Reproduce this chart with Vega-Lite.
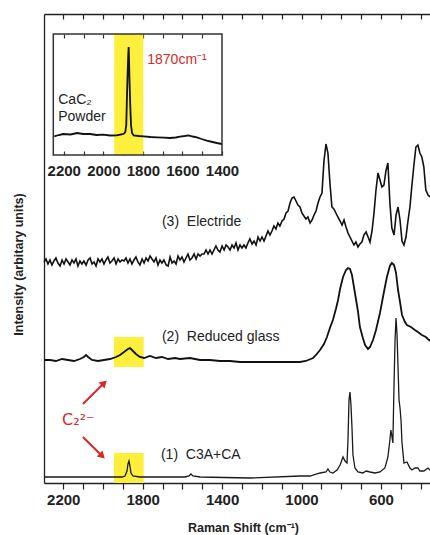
{
  "$schema": "https://vega.github.io/schema/vega-lite/v6.json",
  "width": 386,
  "height": 469,
  "autosize": {"type": "none"},
  "padding": {"left": 44, "top": 14, "right": 0, "bottom": 52},
  "config": {"view": {"stroke": null}, "font": "Liberation Sans", "axis": {"grid": false}},
  "datasets": {
    "electride": [
      {"w":2297,"I":221},{"w":2287,"I":224},{"w":2277,"I":219},{"w":2267,"I":223},{"w":2257,"I":218},{"w":2247,"I":222},{"w":2237,"I":225},{"w":2227,"I":220},{"w":2216,"I":217},{"w":2206,"I":223},
      {"w":2196,"I":219},{"w":2186,"I":224},{"w":2176,"I":221},{"w":2166,"I":218},{"w":2156,"I":223},{"w":2146,"I":220},{"w":2136,"I":224},{"w":2126,"I":217},{"w":2116,"I":222},{"w":2106,"I":219},
      {"w":2096,"I":222},{"w":2085,"I":218},{"w":2075,"I":223},{"w":2065,"I":225},{"w":2055,"I":219},{"w":2045,"I":221},{"w":2035,"I":217},{"w":2025,"I":224},{"w":2015,"I":221},{"w":2005,"I":224},
      {"w":1995,"I":219},{"w":1985,"I":223},{"w":1975,"I":226},{"w":1965,"I":220},{"w":1955,"I":222},{"w":1944,"I":225},{"w":1934,"I":219},{"w":1924,"I":224},{"w":1914,"I":221},{"w":1904,"I":223},
      {"w":1894,"I":222},{"w":1884,"I":225},{"w":1874,"I":220},{"w":1864,"I":224},{"w":1854,"I":219},{"w":1844,"I":223},{"w":1834,"I":226},{"w":1824,"I":221},{"w":1814,"I":218},{"w":1803,"I":224},
      {"w":1793,"I":220},{"w":1783,"I":225},{"w":1773,"I":222},{"w":1763,"I":227},{"w":1753,"I":224},{"w":1743,"I":221},{"w":1733,"I":225},{"w":1723,"I":218},{"w":1713,"I":223},{"w":1703,"I":220},
      {"w":1693,"I":223},{"w":1682,"I":218},{"w":1672,"I":217},{"w":1662,"I":226},{"w":1652,"I":220},{"w":1642,"I":222},{"w":1632,"I":219},{"w":1622,"I":227},{"w":1612,"I":223},{"w":1602,"I":226},
      {"w":1592,"I":221},{"w":1582,"I":225},{"w":1572,"I":229},{"w":1562,"I":223},{"w":1552,"I":225},{"w":1541,"I":229},{"w":1531,"I":224},{"w":1521,"I":229},{"w":1511,"I":227},{"w":1501,"I":229},
      {"w":1491,"I":229},{"w":1481,"I":233},{"w":1471,"I":229},{"w":1461,"I":233},{"w":1451,"I":229},{"w":1441,"I":233},{"w":1431,"I":237},{"w":1421,"I":233},{"w":1411,"I":231},{"w":1400,"I":237},
      {"w":1390,"I":233},{"w":1380,"I":238},{"w":1370,"I":236},{"w":1360,"I":233},{"w":1350,"I":238},{"w":1340,"I":235},{"w":1330,"I":240},{"w":1320,"I":233},{"w":1310,"I":238},{"w":1300,"I":235},
      {"w":1290,"I":238},{"w":1280,"I":235},{"w":1270,"I":240},{"w":1260,"I":244},{"w":1249,"I":239},{"w":1239,"I":242},{"w":1229,"I":238},{"w":1219,"I":246},{"w":1209,"I":242},{"w":1199,"I":246},
      {"w":1189,"I":242},{"w":1179,"I":247},{"w":1169,"I":252},{"w":1159,"I":248},{"w":1149,"I":252},{"w":1139,"I":257},{"w":1129,"I":254},{"w":1119,"I":260},{"w":1109,"I":257},{"w":1098,"I":262},
      {"w":1088,"I":264},{"w":1078,"I":270},{"w":1068,"I":272},{"w":1058,"I":280},{"w":1048,"I":285},{"w":1038,"I":286},{"w":1028,"I":282},{"w":1018,"I":278},{"w":1008,"I":276},{"w":998,"I":270},
      {"w":988,"I":267},{"w":978,"I":264},{"w":968,"I":266},{"w":957,"I":260},{"w":947,"I":263},{"w":937,"I":268},{"w":927,"I":272},{"w":917,"I":280},{"w":907,"I":286},{"w":897,"I":290},
      {"w":887,"I":322},{"w":877,"I":339},{"w":867,"I":330},{"w":857,"I":300},{"w":847,"I":276},{"w":837,"I":274},{"w":827,"I":270},{"w":817,"I":266},{"w":806,"I":262},{"w":796,"I":258},
      {"w":786,"I":263},{"w":776,"I":256},{"w":766,"I":250},{"w":756,"I":246},{"w":746,"I":242},{"w":736,"I":238},{"w":726,"I":241},{"w":716,"I":236},{"w":706,"I":239},{"w":696,"I":241},
      {"w":686,"I":248},{"w":675,"I":251},{"w":665,"I":246},{"w":655,"I":241},{"w":645,"I":252},{"w":635,"I":270},{"w":625,"I":293},{"w":615,"I":310},{"w":605,"I":303},{"w":595,"I":296},
      {"w":585,"I":298},{"w":575,"I":312},{"w":565,"I":320},{"w":555,"I":280},{"w":545,"I":255},{"w":534,"I":248},{"w":524,"I":268},{"w":514,"I":276},{"w":504,"I":263},{"w":494,"I":242},
      {"w":484,"I":238},{"w":474,"I":246},{"w":464,"I":262},{"w":454,"I":276},{"w":444,"I":298},{"w":434,"I":318},{"w":424,"I":336},{"w":414,"I":338},{"w":404,"I":330},{"w":394,"I":326},
      {"w":384,"I":316},{"w":374,"I":293},{"w":363,"I":288},{"w":353,"I":286}
    ],
    "glass": [
      {"w":2297,"I":123},{"w":2267,"I":123},{"w":2237,"I":122},{"w":2206,"I":124},{"w":2176,"I":123},{"w":2146,"I":122},{"w":2116,"I":124},{"w":2096,"I":126},{"w":2085,"I":128},{"w":2075,"I":126},
      {"w":2055,"I":123},{"w":2025,"I":122},{"w":1995,"I":123},{"w":1965,"I":124},{"w":1934,"I":126},{"w":1914,"I":128},{"w":1894,"I":131},{"w":1874,"I":134},{"w":1864,"I":135},{"w":1854,"I":133},
      {"w":1834,"I":129},{"w":1814,"I":126},{"w":1793,"I":125},{"w":1763,"I":127},{"w":1733,"I":125},{"w":1703,"I":126},{"w":1672,"I":124},{"w":1637,"I":125},{"w":1612,"I":124},{"w":1562,"I":125},
      {"w":1511,"I":123},{"w":1461,"I":123},{"w":1411,"I":122},{"w":1360,"I":122},{"w":1310,"I":121},{"w":1260,"I":121},{"w":1209,"I":121},{"w":1159,"I":121},{"w":1109,"I":121},{"w":1058,"I":121},
      {"w":1008,"I":121},{"w":978,"I":122},{"w":942,"I":125},{"w":927,"I":128},{"w":907,"I":133},{"w":887,"I":139},{"w":872,"I":146},{"w":857,"I":155},{"w":842,"I":163},{"w":827,"I":174},
      {"w":816,"I":183},{"w":806,"I":194},{"w":791,"I":206},{"w":776,"I":213},{"w":766,"I":215},{"w":756,"I":214},{"w":746,"I":208},{"w":731,"I":190},{"w":716,"I":172},{"w":706,"I":156},
      {"w":691,"I":145},{"w":680,"I":138},{"w":665,"I":134},{"w":655,"I":136},{"w":640,"I":143},{"w":625,"I":153},{"w":605,"I":170},{"w":585,"I":191},{"w":570,"I":206},{"w":555,"I":217},
      {"w":545,"I":220},{"w":534,"I":218},{"w":524,"I":210},{"w":514,"I":193},{"w":504,"I":181},{"w":494,"I":168},{"w":479,"I":161},{"w":469,"I":158},{"w":449,"I":156},{"w":429,"I":153},
      {"w":414,"I":151},{"w":394,"I":148},{"w":374,"I":146},{"w":353,"I":142}
    ],
    "c3a": [
      {"w":2297,"I":6},{"w":2116,"I":6},{"w":1965,"I":6},{"w":1904,"I":6},{"w":1889,"I":7},{"w":1879,"I":12},{"w":1874,"I":19},{"w":1869,"I":22},{"w":1864,"I":17},{"w":1859,"I":10},
      {"w":1849,"I":7},{"w":1814,"I":6},{"w":1713,"I":6},{"w":1587,"I":6},{"w":1567,"I":7},{"w":1557,"I":9},{"w":1547,"I":7},{"w":1511,"I":6},{"w":1260,"I":5},{"w":1008,"I":7},
      {"w":957,"I":7},{"w":907,"I":10},{"w":877,"I":11},{"w":867,"I":14},{"w":857,"I":11},{"w":842,"I":10},{"w":821,"I":13},{"w":806,"I":18},{"w":791,"I":26},{"w":781,"I":22},
      {"w":771,"I":20},{"w":766,"I":43},{"w":761,"I":83},{"w":756,"I":91},{"w":751,"I":78},{"w":746,"I":56},{"w":741,"I":28},{"w":731,"I":15},{"w":716,"I":11},{"w":691,"I":10},
      {"w":675,"I":12},{"w":655,"I":11},{"w":630,"I":10},{"w":605,"I":11},{"w":580,"I":15},{"w":565,"I":26},{"w":555,"I":43},{"w":550,"I":53},{"w":545,"I":47},{"w":540,"I":40},
      {"w":534,"I":100},{"w":529,"I":143},{"w":524,"I":165},{"w":519,"I":148},{"w":514,"I":116},{"w":509,"I":83},{"w":504,"I":75},{"w":499,"I":63},{"w":494,"I":40},{"w":484,"I":20},
      {"w":469,"I":21},{"w":454,"I":15},{"w":444,"I":13},{"w":429,"I":15},{"w":414,"I":15},{"w":404,"I":12},{"w":384,"I":12},{"w":363,"I":15},{"w":353,"I":13}
    ],
    "cac2": [
      {"w":2248,"I":18.7},{"w":2225,"I":20},{"w":2204,"I":21},{"w":2166,"I":20.5},{"w":2133,"I":22},{"w":2102,"I":21},{"w":2066,"I":21},{"w":2034,"I":20},{"w":2001,"I":20.3},{"w":1966,"I":19.5},
      {"w":1932,"I":19.7},{"w":1898,"I":21},{"w":1889,"I":23},{"w":1884,"I":30},{"w":1881,"I":55},{"w":1878,"I":77},{"w":1874,"I":100},{"w":1872,"I":108},{"w":1870,"I":95},{"w":1868,"I":77},
      {"w":1864,"I":50},{"w":1860,"I":30},{"w":1855,"I":22},{"w":1847,"I":19.7},{"w":1821,"I":19},{"w":1797,"I":18.7},{"w":1762,"I":18},{"w":1729,"I":17.7},{"w":1693,"I":17.3},{"w":1663,"I":17},
      {"w":1634,"I":17.5},{"w":1612,"I":18.3},{"w":1589,"I":19},{"w":1570,"I":19.7},{"w":1548,"I":18.5},{"w":1527,"I":17.7},{"w":1503,"I":16},{"w":1477,"I":14.3},{"w":1448,"I":13},{"w":1426,"I":12},
      {"w":1401,"I":11}
    ],
    "bands": [
      {"x1":1945,"x2":1795,"y1":116,"y2":146},
      {"x1":1945,"x2":1795,"y1":0,"y2":30}
    ],
    "labels": [
      {"w":1703,"I":261,"text":"(3)\u00a0\u00a0Electride"},
      {"w":1703,"I":146,"text":"(2)\u00a0\u00a0Reduced glass"},
      {"w":1708,"I":28,"text":"(1)\u00a0\u00a0C3A+CA"}
    ],
    "arrows": [
      {"w1":2101,"I1":79,"w2":1994,"I2":100,"dir":"up"},
      {"w1":2101,"I1":46,"w2":2004,"I2":27,"dir":"down"}
    ],
    "c2": [{"w":2206,"I":63,"text":"C\u2082\u00b2\u207b"}],
    "insetband": [{"x1":1945,"x2":1798,"y1":0,"y2":121}],
    "insetframe": [{"x1":2253,"x2":1400,"y1":0,"y2":121}],
    "insettext": [
      {"w":2228,"I":55,"text":"CaC\u2082"},
      {"w":2228,"I":38,"text":"Powder"}
    ],
    "insetred": [{"w":1778,"I":95,"text":"1870cm\u207b\u00b9"}]
  },
  "layer": [
    {
      "layer": [
        {
          "data": {"name": "bands"},
          "mark": {"type": "rect", "color": "#fcf03c"},
          "encoding": {
            "x": {"field": "x1", "type": "quantitative", "scale": {"domain": [353, 2297], "reverse": true, "nice": false, "zero": false}, "axis": null},
            "x2": {"field": "x2"},
            "y": {"field": "y1", "type": "quantitative", "scale": {"domain": [0, 469], "nice": false, "zero": false}, "axis": null},
            "y2": {"field": "y2"}
          }
        },
        {
          "data": {"name": "electride"},
          "mark": {"type": "line", "color": "#111111", "strokeWidth": 1.6},
          "encoding": {
            "x": {"field": "w", "type": "quantitative", "scale": {"domain": [353, 2297], "reverse": true, "nice": false, "zero": false},
              "axis": {"orient": "bottom", "values": [2200,2100,2000,1900,1800,1700,1600,1500,1400,1300,1200,1100,1000,900,800,700,600,500,400],
                "format": "d", "labelExpr": "(2200 - datum.value) % 400 === 0 ? datum.label : ''",
                "title": "Raman Shift (cm\u207b\u00b9)", "tickSize": 6, "tickColor": "#222", "tickWidth": 1.2, "domainColor": "#222", "domainWidth": 1.3,
                "labelFont": "Liberation Sans", "labelFontWeight": "bold", "labelFontSize": 15, "labelColor": "#222", "labelPadding": 3,
                "labelFlush": false, "labelOverlap": false,
                "titleFont": "Liberation Sans", "titleFontWeight": "bold", "titleFontSize": 12.5, "titleColor": "#222",
                "titleX": 199, "titleY": 44, "titleBaseline": "middle", "titleAlign": "center"}},
            "y": {"field": "I", "type": "quantitative", "scale": {"domain": [0, 469], "nice": false, "zero": false},
              "axis": {"orient": "left", "ticks": false, "labels": false, "title": "Intensity (arbitary units)", "domainColor": "#222", "domainWidth": 1.3,
                "titleFont": "Liberation Sans", "titleFontWeight": "bold", "titleFontSize": 12.5, "titleColor": "#222",
                "titleX": -26, "titleY": 250, "titleAngle": 270, "titleAlign": "center", "titleBaseline": "middle"}}
          }
        },
        {
          "data": {"name": "glass"},
          "mark": {"type": "line", "color": "#111111", "strokeWidth": 1.8},
          "encoding": {
            "x": {"field": "w", "type": "quantitative", "scale": {"domain": [353, 2297], "reverse": true, "nice": false, "zero": false},
              "axis": {"orient": "top", "values": [2200,2100,2000,1900,1800,1700,1600,1500,1400,1300,1200,1100,1000,900,800,700,600,500,400],
                "labels": false, "title": null, "tickSize": -5, "tickColor": "#222", "tickWidth": 1.2, "domainColor": "#222", "domainWidth": 1.3}},
            "y": {"field": "I", "type": "quantitative", "scale": {"domain": [0, 469], "nice": false, "zero": false}, "axis": null}
          }
        },
        {
          "data": {"name": "c3a"},
          "mark": {"type": "line", "color": "#1a1a1a", "strokeWidth": 1.3},
          "encoding": {
            "x": {"field": "w", "type": "quantitative", "scale": {"domain": [353, 2297], "reverse": true, "nice": false, "zero": false}, "axis": null},
            "y": {"field": "I", "type": "quantitative", "scale": {"domain": [0, 469], "nice": false, "zero": false}, "axis": null}
          }
        },
        {
          "data": {"name": "labels"},
          "mark": {"type": "text", "align": "left", "baseline": "middle", "fontSize": 14, "font": "Liberation Sans", "color": "#222"},
          "encoding": {
            "x": {"field": "w", "type": "quantitative", "scale": {"domain": [353, 2297], "reverse": true, "nice": false, "zero": false}, "axis": null},
            "y": {"field": "I", "type": "quantitative", "scale": {"domain": [0, 469], "nice": false, "zero": false}, "axis": null},
            "text": {"field": "text"}
          }
        },
        {
          "data": {"name": "c2"},
          "mark": {"type": "text", "align": "left", "baseline": "middle", "fontSize": 16, "font": "DejaVu Sans", "color": "#d42a2a"},
          "encoding": {
            "x": {"field": "w", "type": "quantitative", "scale": {"domain": [353, 2297], "reverse": true, "nice": false, "zero": false}, "axis": null},
            "y": {"field": "I", "type": "quantitative", "scale": {"domain": [0, 469], "nice": false, "zero": false}, "axis": null},
            "text": {"field": "text"}
          }
        },
        {
          "data": {"name": "arrows"},
          "mark": {"type": "rule", "color": "#d42a2a", "strokeWidth": 2},
          "encoding": {
            "x": {"field": "w1", "type": "quantitative", "scale": {"domain": [353, 2297], "reverse": true, "nice": false, "zero": false}, "axis": null},
            "x2": {"field": "w2"},
            "y": {"field": "I1", "type": "quantitative", "scale": {"domain": [0, 469], "nice": false, "zero": false}, "axis": null},
            "y2": {"field": "I2"}
          }
        },
        {
          "data": {"name": "arrows"},
          "mark": {"type": "point", "shape": "triangle-up", "filled": true, "size": 70, "color": "#d42a2a", "opacity": 1},
          "encoding": {
            "x": {"field": "w2", "type": "quantitative", "scale": {"domain": [353, 2297], "reverse": true, "nice": false, "zero": false}, "axis": null},
            "y": {"field": "I2", "type": "quantitative", "scale": {"domain": [0, 469], "nice": false, "zero": false}, "axis": null},
            "angle": {"field": "dir", "type": "nominal", "scale": {"domain": ["up", "down"], "range": [45, 135]}, "legend": null}
          }
        }
      ],
      "resolve": {"axis": {"x": "independent", "y": "independent"}}
    },
    {
      "layer": [
        {
          "data": {"name": "insetband"},
          "mark": {"type": "rect", "color": "#fcf03c"},
          "encoding": {
            "x": {"field": "x1", "type": "quantitative", "scale": {"domain": [1400, 2253], "range": [178, 9.3], "nice": false, "zero": false}, "axis": null},
            "x2": {"field": "x2"},
            "y": {"field": "y1", "type": "quantitative", "scale": {"domain": [0, 121], "range": [141, 20], "nice": false, "zero": false}, "axis": null},
            "y2": {"field": "y2"}
          }
        },
        {
          "data": {"name": "insetframe"},
          "mark": {"type": "rect", "fill": null, "fillOpacity": 0, "stroke": "#333", "strokeWidth": 1.5},
          "encoding": {
            "x": {"field": "x1", "type": "quantitative", "scale": {"domain": [1400, 2253], "range": [178, 9.3], "nice": false, "zero": false},
              "axis": {"orient": "top", "offset": -20, "values": [2200,2100,2000,1900,1800,1700,1600,1500], "labels": false, "title": null, "domain": false,
                "tickSize": -4, "tickColor": "#333", "tickWidth": 1.2}},
            "x2": {"field": "x2"},
            "y": {"field": "y1", "type": "quantitative", "scale": {"domain": [0, 121], "range": [141, 20], "nice": false, "zero": false}, "axis": null},
            "y2": {"field": "y2"}
          }
        },
        {
          "data": {"name": "cac2"},
          "mark": {"type": "line", "color": "#111111", "strokeWidth": 1.8},
          "encoding": {
            "x": {"field": "w", "type": "quantitative", "scale": {"domain": [1400, 2253], "range": [178, 9.3], "nice": false, "zero": false},
              "axis": {"orient": "bottom", "offset": -328, "values": [2200,2100,2000,1900,1800,1700,1600,1500,1400], "format": "d",
                "labelExpr": "datum.value % 200 === 0 ? datum.label : ''", "title": null, "domain": false,
                "tickSize": -4, "tickColor": "#333", "tickWidth": 1.2,
                "labelFont": "Liberation Sans", "labelFontWeight": "bold", "labelFontSize": 15, "labelColor": "#222", "labelPadding": 12,
                "labelFlush": false, "labelOverlap": false}},
            "y": {"field": "I", "type": "quantitative", "scale": {"domain": [0, 121], "range": [141, 20], "nice": false, "zero": false}, "axis": null}
          }
        },
        {
          "data": {"name": "insettext"},
          "mark": {"type": "text", "align": "left", "baseline": "middle", "fontSize": 14, "font": "Liberation Sans", "color": "#222"},
          "encoding": {
            "x": {"field": "w", "type": "quantitative", "scale": {"domain": [1400, 2253], "range": [178, 9.3], "nice": false, "zero": false}, "axis": null},
            "y": {"field": "I", "type": "quantitative", "scale": {"domain": [0, 121], "range": [141, 20], "nice": false, "zero": false}, "axis": null},
            "text": {"field": "text"}
          }
        },
        {
          "data": {"name": "insetred"},
          "mark": {"type": "text", "align": "left", "baseline": "middle", "fontSize": 14, "font": "Liberation Sans", "color": "#d42a2a"},
          "encoding": {
            "x": {"field": "w", "type": "quantitative", "scale": {"domain": [1400, 2253], "range": [178, 9.3], "nice": false, "zero": false}, "axis": null},
            "y": {"field": "I", "type": "quantitative", "scale": {"domain": [0, 121], "range": [141, 20], "nice": false, "zero": false}, "axis": null},
            "text": {"field": "text"}
          }
        }
      ],
      "resolve": {"axis": {"x": "independent", "y": "independent"}}
    }
  ],
  "resolve": {"scale": {"x": "independent", "y": "independent"}, "axis": {"x": "independent", "y": "independent"}}
}
